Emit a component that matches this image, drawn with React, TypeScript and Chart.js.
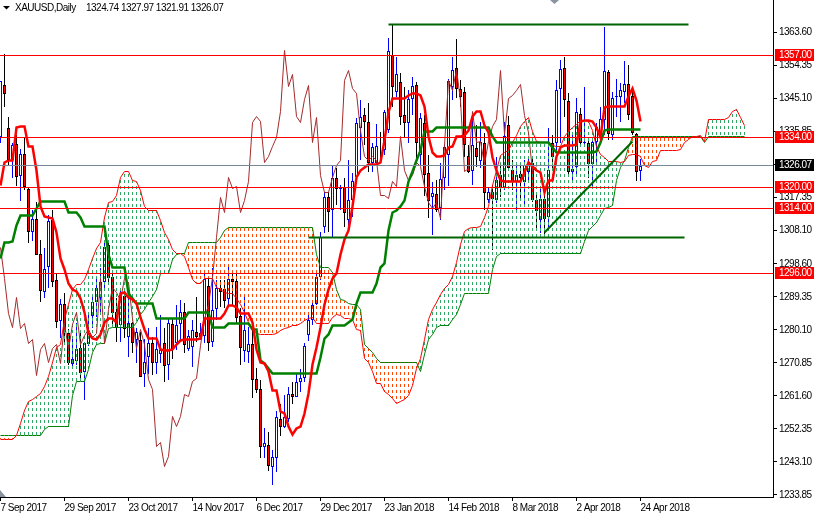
import React, { useEffect, useRef } from 'react';
import { Chart, registerables } from 'chart.js';

Chart.register(...registerables);

// daily candles, one entry per bar
const opens = [
  1334.1, 1348.7, 1336.7, 1327.7, 1332.2, 1323.2, 1329.4, 1319.6, 1307.5, 1311.2,
  1301.4, 1290.7, 1297.7, 1310.9, 1294.1, 1282.6, 1287.4, 1279.2, 1270.5, 1271.4,
  1275.0, 1268.3, 1276.1, 1284.0, 1287.9, 1289.0, 1293.5, 1303.9, 1294.9, 1285.1,
  1281.5, 1289.6, 1278.1, 1282.0, 1277.3, 1277.3, 1267.7, 1272.5, 1276.4, 1270.8,
  1273.4, 1276.4, 1270.3, 1281.7, 1276.4, 1281.7, 1285.1, 1274.7, 1275.3, 1279.5,
  1278.1, 1278.4, 1292.4, 1276.7, 1286.0, 1291.8, 1291.6, 1288.8, 1294.4, 1293.8,
  1284.0, 1274.2, 1273.9, 1276.1, 1266.3, 1263.5, 1247.3, 1247.8, 1241.7, 1244.2,
  1255.1, 1252.9, 1255.1, 1262.1, 1261.3, 1265.5, 1266.6, 1278.7, 1282.9, 1287.4,
  1294.9, 1308.9, 1317.3, 1313.7, 1322.7, 1319.6, 1320.2, 1310.9, 1316.5, 1322.9,
  1336.7, 1340.3, 1338.4, 1326.9, 1326.9, 1334.2, 1330.5, 1336.1, 1357.2, 1346.8,
  1349.6, 1340.3, 1338.1, 1344.8, 1348.7, 1329.1, 1338.1, 1324.1, 1317.4, 1318.2,
  1314.3, 1322.7, 1329.1, 1348.2, 1353.5, 1347.6, 1346.8, 1328.8, 1324.6, 1331.1,
  1327.4, 1332.5, 1316.5, 1318.7, 1316.5, 1323.5, 1319.9, 1337.5, 1324.9, 1321.6,
  1323.8, 1321.6, 1324.4, 1326.9, 1316.5, 1310.9, 1316.8, 1311.8, 1332.5, 1332.5,
  1347.6, 1353.5, 1344.3, 1324.4, 1325.8, 1340.6, 1332.5, 1332.5, 1326.6, 1332.8,
  1334.2, 1338.9, 1352.4, 1334.7, 1345.4, 1345.4, 1346.8, 1349.0, 1345.7, 1335.0,
  1324.74,
];
const highs = [
  1349.9, 1357.4, 1339.8, 1332.5, 1334.7, 1330.8, 1333.9, 1319.9, 1313.7, 1315.9,
  1305.3, 1303.0, 1312.3, 1313.7, 1296.0, 1288.8, 1290.4, 1280.4, 1278.1, 1282.0,
  1279.2, 1276.4, 1284.3, 1289.3, 1294.6, 1297.4, 1305.3, 1305.3, 1296.9, 1289.0,
  1291.3, 1291.3, 1291.3, 1282.3, 1280.6, 1279.5, 1277.5, 1280.6, 1278.1, 1280.9,
  1284.3, 1280.6, 1283.4, 1283.4, 1287.1, 1288.5, 1287.6, 1280.1, 1282.9, 1289.3,
  1282.0, 1296.9, 1294.9, 1297.4, 1294.1, 1294.1, 1294.1, 1298.3, 1296.6, 1296.3,
  1286.2, 1289.3, 1280.9, 1280.1, 1269.4, 1266.1, 1252.6, 1251.5, 1246.4, 1257.3,
  1259.3, 1261.8, 1264.1, 1265.5, 1268.0, 1269.1, 1276.4, 1284.3, 1287.6, 1296.9,
  1307.5, 1318.7, 1318.7, 1326.0, 1325.5, 1320.7, 1322.7, 1327.7, 1324.1, 1339.5,
  1344.5, 1342.3, 1343.7, 1332.5, 1337.8, 1335.6, 1341.7, 1361.9, 1365.6, 1356.6,
  1352.1, 1348.2, 1347.3, 1351.0, 1349.6, 1340.9, 1340.3, 1329.1, 1321.6, 1322.1,
  1326.9, 1331.9, 1350.4, 1356.6, 1361.6, 1350.1, 1348.2, 1331.9, 1340.3, 1337.5,
  1338.4, 1335.3, 1319.9, 1320.7, 1328.6, 1326.3, 1338.4, 1340.0, 1327.7, 1326.3,
  1326.9, 1327.7, 1328.6, 1328.6, 1318.5, 1320.2, 1320.2, 1336.7, 1334.7, 1350.1,
  1355.8, 1356.6, 1346.5, 1335.3, 1345.1, 1342.3, 1348.2, 1333.0, 1333.3, 1338.1,
  1342.6, 1365.0, 1352.9, 1346.8, 1350.4, 1349.3, 1355.5, 1354.3, 1347.9, 1335.3,
  1327.97,
];
const lows = [
  1332.5, 1342.6, 1326.0, 1322.7, 1320.4, 1316.2, 1319.3, 1304.4, 1305.0, 1301.1,
  1287.9, 1289.0, 1291.8, 1292.1, 1280.6, 1277.8, 1276.4, 1270.3, 1269.1, 1270.3,
  1266.1, 1260.5, 1275.6, 1280.6, 1283.7, 1284.8, 1291.3, 1293.2, 1280.9, 1276.7,
  1276.7, 1277.8, 1272.5, 1273.6, 1270.8, 1266.9, 1264.1, 1267.7, 1267.5, 1267.7,
  1270.8, 1265.5, 1266.1, 1272.0, 1274.5, 1277.3, 1273.6, 1274.2, 1269.7, 1276.7,
  1277.3, 1276.4, 1274.2, 1275.3, 1282.9, 1286.5, 1286.2, 1287.1, 1287.1, 1282.0,
  1270.3, 1271.1, 1270.8, 1261.0, 1262.4, 1244.2, 1244.2, 1240.5, 1236.6, 1240.3,
  1250.4, 1252.6, 1254.3, 1259.3, 1261.3, 1262.7, 1265.5, 1277.0, 1281.5, 1287.1,
  1294.1, 1307.3, 1307.5, 1305.9, 1315.1, 1313.7, 1308.9, 1308.9, 1311.8, 1322.1,
  1327.7, 1331.9, 1324.4, 1324.4, 1326.3, 1328.0, 1329.1, 1335.3, 1342.6, 1345.4,
  1337.5, 1334.2, 1332.5, 1340.3, 1327.7, 1326.3, 1317.6, 1311.5, 1306.7, 1313.1,
  1310.9, 1319.3, 1320.4, 1344.5, 1345.1, 1342.6, 1328.6, 1324.1, 1320.7, 1325.8,
  1325.5, 1313.7, 1315.7, 1302.5, 1315.7, 1317.4, 1319.3, 1324.9, 1319.3, 1313.7,
  1316.5, 1314.6, 1322.1, 1315.9, 1308.1, 1307.3, 1306.7, 1308.9, 1324.9, 1330.5,
  1332.5, 1339.8, 1323.5, 1321.3, 1323.0, 1331.4, 1331.4, 1322.7, 1320.2, 1326.9,
  1333.9, 1334.7, 1333.3, 1333.3, 1339.8, 1338.4, 1343.7, 1338.9, 1334.7, 1321.8,
  1321.91,
];
const closes = [
  1349.9, 1346.2, 1327.7, 1331.9, 1322.9, 1329.4, 1320.2, 1307.5, 1311.2, 1301.1,
  1291.0, 1297.2, 1310.6, 1293.5, 1282.3, 1287.4, 1279.5, 1270.8, 1271.9, 1274.7,
  1268.0, 1276.4, 1279.2, 1287.9, 1291.8, 1293.5, 1303.3, 1294.6, 1284.8, 1280.9,
  1289.9, 1280.4, 1282.0, 1276.4, 1279.5, 1266.9, 1271.1, 1276.4, 1270.8, 1274.7,
  1274.5, 1270.0, 1282.0, 1274.7, 1281.5, 1285.1, 1275.9, 1278.4, 1280.1, 1278.1,
  1279.2, 1294.4, 1276.4, 1285.7, 1291.8, 1290.7, 1288.2, 1294.4, 1293.5, 1283.4,
  1275.0, 1280.1, 1276.1, 1266.1, 1263.3, 1247.3, 1248.4, 1241.9, 1244.5, 1255.7,
  1252.9, 1255.7, 1262.1, 1261.3, 1265.5, 1266.6, 1275.6, 1282.9, 1287.1, 1294.9,
  1306.1, 1317.3, 1313.1, 1322.7, 1319.6, 1320.2, 1312.9, 1316.5, 1321.8, 1338.1,
  1339.8, 1338.4, 1326.9, 1331.4, 1331.6, 1333.9, 1341.2, 1358.3, 1348.2, 1351.8,
  1339.8, 1338.1, 1344.8, 1348.5, 1332.5, 1339.5, 1323.5, 1316.2, 1318.5, 1313.7,
  1322.4, 1331.4, 1349.9, 1352.9, 1347.6, 1345.4, 1331.9, 1324.4, 1331.9, 1328.6,
  1332.8, 1318.5, 1318.7, 1316.8, 1322.1, 1319.9, 1334.4, 1325.5, 1321.6, 1323.5,
  1322.7, 1326.3, 1326.9, 1316.5, 1313.4, 1316.8, 1311.2, 1324.9, 1328.6, 1347.3,
  1353.2, 1344.5, 1324.4, 1325.2, 1341.2, 1332.5, 1332.8, 1326.6, 1332.8, 1337.0,
  1339.2, 1352.7, 1335.0, 1345.1, 1345.7, 1347.3, 1349.0, 1340.3, 1335.3, 1324.4,
  1326.07,
];

// ichimoku lines
const tenkan = [
  1320.7, 1326.9, 1327.7, 1327.7, 1336.7, 1337.0, 1337.0, 1331.4, 1331.4, 1324.9,
  1314.6, 1311.8, 1311.5, 1311.2, 1307.5, 1300.2, 1296.9, 1293.2, 1291.3, 1291.0,
  1289.0, 1285.1, 1279.2, 1277.8, 1277.5, 1278.7, 1282.3, 1283.4, 1283.4, 1282.3,
  1290.4, 1290.7, 1289.3, 1288.5, 1287.6, 1283.7, 1280.1, 1277.8, 1277.8, 1277.8,
  1274.5, 1274.2, 1274.2, 1274.5, 1275.9, 1277.0, 1277.3, 1277.3, 1277.5, 1277.5,
  1277.8, 1283.4, 1283.4, 1283.4, 1283.4, 1283.4, 1284.8, 1286.8, 1286.8, 1286.5,
  1284.8, 1284.8, 1284.8, 1282.3, 1274.5, 1271.1, 1270.8, 1268.3, 1263.0, 1263.0,
  1257.1, 1256.8, 1252.9, 1250.9, 1252.6, 1252.9, 1256.8, 1262.4, 1270.3, 1275.3,
  1280.9, 1287.1, 1291.3, 1294.6, 1296.0, 1301.1, 1305.3, 1308.1, 1314.6, 1322.7,
  1324.9, 1325.5, 1326.6, 1326.6, 1326.6, 1326.9, 1333.3, 1340.9, 1345.1, 1345.1,
  1345.1, 1345.1, 1345.9, 1346.5, 1346.5, 1345.9, 1342.6, 1334.2, 1329.7, 1328.8,
  1328.8, 1329.1, 1331.1, 1331.6, 1334.4, 1334.4, 1334.7, 1336.1, 1339.8, 1341.2,
  1341.2, 1337.5, 1335.3, 1328.3, 1324.9, 1322.1, 1321.8, 1321.8, 1321.6, 1321.6,
  1321.6, 1324.1, 1326.9, 1325.8, 1324.9, 1324.1, 1318.7, 1322.1, 1322.1, 1328.6,
  1331.1, 1331.9, 1331.9, 1331.9, 1332.2, 1338.4, 1338.9, 1338.9, 1338.4, 1336.7,
  1333.9, 1342.3, 1342.6, 1342.6, 1342.6, 1342.6, 1342.6, 1345.4, 1347.9, 1344.5,
  1338.6,
];
const kijun = [
  1300.2, 1304.5, 1304.5, 1305.0, 1309.5, 1312.3, 1312.3, 1312.3, 1312.3, 1314.0,
  1316.2, 1316.2, 1316.2, 1316.2, 1316.2, 1316.2, 1316.2, 1313.1, 1313.1, 1312.9,
  1311.5, 1309.2, 1309.2, 1309.2, 1309.2, 1309.2, 1309.2, 1301.1, 1297.7, 1297.7,
  1297.7, 1297.7, 1290.4, 1289.0, 1287.4, 1287.4, 1287.4, 1287.4, 1287.4, 1283.4,
  1283.4, 1283.4, 1283.4, 1283.4, 1283.4, 1283.4, 1283.4, 1285.1, 1285.1, 1285.1,
  1285.1, 1285.1, 1285.1, 1280.9, 1280.9, 1280.9, 1280.9, 1282.0, 1282.0, 1282.0,
  1282.0, 1282.0, 1282.0, 1280.1, 1280.1, 1271.4, 1270.8, 1269.4, 1268.0, 1268.0,
  1268.0, 1268.0, 1268.0, 1268.0, 1268.0, 1268.0, 1268.0, 1268.0, 1268.0, 1268.0,
  1272.5, 1277.8, 1278.7, 1281.2, 1281.2, 1281.2, 1281.2, 1282.3, 1282.9, 1287.6,
  1290.7, 1290.7, 1290.7, 1290.7, 1293.2, 1297.7, 1298.8, 1308.1, 1312.9, 1313.7,
  1314.6, 1316.5, 1321.6, 1324.4, 1327.7, 1330.5, 1335.6, 1335.8, 1335.8, 1336.7,
  1336.7, 1336.7, 1336.7, 1336.7, 1336.7, 1336.7, 1336.7, 1336.7, 1336.7, 1336.7,
  1336.7, 1336.7, 1336.7, 1334.2, 1332.5, 1332.5, 1332.5, 1332.5, 1332.5, 1332.5,
  1332.5, 1332.5, 1332.5, 1332.5, 1332.5, 1332.5, 1332.5, 1332.5, 1331.1, 1329.7,
  1329.7, 1329.7, 1329.7, 1329.7, 1329.7, 1329.7, 1329.7, 1329.7, 1329.7, 1330.0,
  1332.5, 1336.1, 1336.4, 1336.4, 1336.4, 1336.4, 1336.4, 1336.4, 1336.4, 1336.4,
  1336.4,
];
const chikou = [
  1303.3, 1294.6, 1284.8, 1280.9, 1289.3, 1280.4, 1282.0, 1276.4, 1277.3, 1267.2,
  1274.5, 1276.4, 1271.1, 1275.0, 1275.9, 1270.8, 1282.0, 1274.7, 1281.5, 1285.1,
  1275.9, 1278.4, 1280.1, 1278.1, 1279.2, 1294.4, 1276.4, 1285.7, 1291.9, 1290.7,
  1288.2, 1294.4, 1293.5, 1283.4, 1275.0, 1280.1, 1276.1, 1266.1, 1263.3, 1247.3,
  1248.4, 1241.9, 1244.5, 1255.7, 1252.9, 1255.7, 1262.1, 1261.3, 1265.5, 1266.6,
  1275.6, 1282.9, 1287.1, 1294.9, 1306.1, 1317.3, 1313.1, 1322.7, 1319.6, 1320.2,
  1312.9, 1316.5, 1321.8, 1338.1, 1339.8, 1338.4, 1326.9, 1328.6, 1331.6, 1333.9,
  1341.2, 1358.3, 1348.2, 1351.8, 1339.8, 1338.1, 1344.8, 1348.5, 1332.5, 1339.5,
  1323.5, 1318.7, 1318.5, 1322.7, 1326.3, 1327.7, 1350.1, 1352.7, 1347.9, 1346.5,
  1336.1, 1328.6, 1327.7, 1328.6, 1327.7, 1317.9, 1317.9, 1316.8, 1321.8, 1320.2,
  1334.2, 1324.9, 1322.1, 1323.5, 1326.9, 1325.8, 1320.2, 1315.7, 1314.0, 1315.9,
  1311.2, 1331.9, 1350.1, 1347.3, 1353.2, 1344.5, 1324.4, 1325.2, 1341.2, 1332.5,
  1332.8, 1326.6, 1332.8, 1337.0, 1339.2, 1352.7, 1335.0, 1345.1, 1345.7, 1347.3,
  1349.0, 1340.3, 1335.3, 1324.4, 1326.0,
];
const spanA = [
  1249.5, 1249.5, 1249.5, 1249.5, 1250.6, 1254.0, 1257.6, 1259.9, 1260.5, 1261.3,
  1262.4, 1264.1, 1266.9, 1271.1, 1275.3, 1275.9, 1282.9, 1287.1, 1291.3, 1292.7,
  1292.7, 1294.1, 1296.9, 1300.2, 1303.0, 1304.5, 1311.7, 1315.9, 1316.2, 1317.9,
  1322.9, 1324.6, 1324.4, 1322.1, 1321.6, 1319.3, 1314.6, 1313.7, 1313.7, 1313.7,
  1310.9, 1307.5, 1305.3, 1302.5, 1301.6, 1301.6, 1300.8, 1297.5, 1294.1, 1293.2,
  1293.2, 1294.4, 1294.6, 1294.4, 1292.1, 1291.3, 1290.7, 1290.4, 1290.4, 1289.0,
  1287.1, 1285.1, 1282.3, 1280.6, 1279.2, 1278.9, 1278.7, 1278.7, 1278.9, 1279.2,
  1279.8, 1280.4, 1280.9, 1281.2, 1281.2, 1281.8, 1282.6, 1283.4, 1283.7, 1282.0,
  1282.0, 1282.0, 1282.0, 1283.7, 1284.3, 1284.0, 1283.4, 1283.4, 1282.9, 1280.1,
  1279.8, 1272.2, 1271.1, 1268.3, 1265.2, 1265.2, 1262.7, 1262.1, 1261.0, 1259.6,
  1259.9, 1260.5, 1261.8, 1264.6, 1269.4, 1272.2, 1277.3, 1282.9, 1285.7, 1287.9,
  1289.9, 1291.8, 1292.7, 1295.2, 1299.1, 1303.9, 1307.8, 1308.4, 1308.7, 1308.7,
  1309.2, 1311.5, 1314.6, 1320.7, 1324.9, 1329.1, 1329.7, 1330.5, 1332.5, 1334.7,
  1337.0, 1338.4, 1339.5, 1335.6, 1332.8, 1332.5, 1332.5, 1332.5, 1331.9, 1331.6,
  1331.4, 1334.2, 1335.8, 1336.7, 1337.8, 1338.9, 1338.9, 1338.4, 1336.1, 1331.4,
  1329.4, 1328.3, 1327.4, 1327.2, 1327.2, 1326.9, 1327.2, 1329.1, 1329.4, 1329.4,
  1328.6, 1326.3, 1325.5, 1327.2, 1327.7, 1330.5, 1330.5, 1330.5, 1330.5, 1330.5,
  1330.8, 1332.5, 1333.6, 1334.2, 1334.4, 1334.7, 1333.0, 1339.2, 1339.2, 1339.2,
  1339.2, 1339.2, 1339.5, 1341.2, 1342.0, 1339.5, 1337.5,
];
const spanB = [
  1250.6, 1250.6, 1250.6, 1250.6, 1250.6, 1250.6, 1250.6, 1250.6, 1250.6, 1250.6,
  1250.6, 1252.3, 1252.9, 1252.9, 1252.9, 1252.9, 1252.9, 1252.9, 1261.8, 1265.5,
  1265.5, 1265.5, 1268.9, 1273.9, 1275.9, 1276.4, 1276.4, 1280.6, 1280.9, 1280.9,
  1280.9, 1280.9, 1280.9, 1280.9, 1282.3, 1284.3, 1285.7, 1287.9, 1289.6, 1291.3,
  1295.8, 1296.0, 1296.0, 1299.7, 1301.1, 1301.6, 1301.6, 1304.5, 1304.5, 1304.5,
  1304.5, 1304.5, 1304.5, 1304.5, 1304.5, 1305.9, 1308.1, 1308.9, 1308.9, 1308.9,
  1308.9, 1308.9, 1308.9, 1308.9, 1308.9, 1308.9, 1308.9, 1308.9, 1308.9, 1308.9,
  1308.9, 1308.9, 1308.9, 1308.9, 1308.9, 1308.9, 1308.9, 1308.9, 1308.9, 1301.1,
  1297.5, 1297.5, 1297.5, 1296.3, 1291.3, 1288.5, 1288.2, 1287.4, 1287.1, 1287.1,
  1285.7, 1275.9, 1275.0, 1273.9, 1272.2, 1271.1, 1271.1, 1271.1, 1271.1, 1271.1,
  1271.1, 1271.1, 1271.1, 1271.1, 1271.1, 1268.3, 1273.1, 1277.3, 1278.9, 1280.9,
  1281.2, 1281.2, 1281.2, 1282.9, 1284.3, 1287.1, 1290.4, 1290.4, 1290.4, 1290.4,
  1290.4, 1290.4, 1290.4, 1296.9, 1300.8, 1301.4, 1301.4, 1301.4, 1301.4, 1301.4,
  1301.4, 1301.4, 1301.4, 1301.4, 1301.4, 1301.4, 1301.4, 1301.4, 1301.4, 1301.4,
  1301.4, 1301.4, 1301.4, 1301.4, 1301.4, 1301.4, 1305.0, 1308.1, 1309.2, 1310.1,
  1312.3, 1314.0, 1314.3, 1315.1, 1322.1, 1325.5, 1327.7, 1331.1, 1334.2, 1334.2,
  1334.2, 1334.2, 1334.2, 1334.2, 1334.2, 1334.2, 1334.2, 1334.2, 1334.2, 1334.2,
  1334.2, 1334.2, 1334.2, 1334.2, 1334.2, 1334.2, 1332.5, 1334.2, 1334.2, 1334.2,
  1334.2, 1334.2, 1334.2, 1334.2, 1334.2, 1334.2, 1334.2,
];

// horizontal levels, last price, hand drawn trend lines [bar, price]
const levels = [1357, 1334, 1320, 1314, 1296];
const lastPrice = 1326.07;
const trendTop = [[97, 1365.6], [172, 1365.6]];
const trendFloor = [[77, 1306.1], [171, 1306.1]];
const trendRise = [[136, 1307.3], [158, 1332.8]];

const priceTicks = [
  1363.6, 1354.35, 1345.1, 1335.85, 1326.6, 1317.35, 1308.1, 1298.6,
  1289.35, 1280.1, 1270.85, 1261.6, 1252.35, 1243.1, 1233.85,
];
const dateBars = [0, 16, 32, 48, 64, 80, 96, 112, 128, 144, 160];
const dateLabels = [
  '7 Sep 2017', '29 Sep 2017', '23 Oct 2017', '14 Nov 2017', '6 Dec 2017', '29 Dec 2017',
  '23 Jan 2018', '14 Feb 2018', '8 Mar 2018', '2 Apr 2018', '24 Apr 2018',
];

const FONT = '"Liberation Sans", sans-serif';

const dotPattern = (color: string) => {
  const c = document.createElement('canvas');
  c.width = 1;
  c.height = 6;
  const g = c.getContext('2d')!;
  g.fillStyle = color;
  g.fillRect(0, 0, 1, 3);
  return g.createPattern(c, 'repeat')!;
};

const series = (values: number[]) => values.map((y, x) => ({ x, y }));
const pairs = (p: number[][]) => p.map(([x, y]) => ({ x, y }));

const lineSet = (data: any[], color: string, width: number, order: number) => ({
  type: 'line' as const,
  data,
  borderColor: color,
  borderWidth: width,
  pointRadius: 0,
  tension: 0,
  fill: false,
  order,
});

// snap computed pixels to whole pixels so the marks stay crisp like the terminal's
const pixelSnap = {
  id: 'pixelSnap',
  afterDatasetsUpdate(chart: any) {
    chart.data.datasets.forEach((_: any, i: number) => {
      const meta = chart.getDatasetMeta(i);
      meta.data.forEach((el: any) => {
        if (meta.type === 'bar') {
          el.y = Math.round(el.y);
          el.base = Math.round(el.base);
        } else {
          el.y = Math.floor(el.y) + 0.5;
        }
      });
    });
  },
};

// price tags, title and the small chart markers
const overlay = {
  id: 'overlay',
  beforeDraw(chart: any) {
    // the reference font is narrower than anything installed
    chart.ctx.letterSpacing = '-0.5px';
  },
  afterDraw(chart: any) {
    const { ctx } = chart;
    const yScale = chart.scales.y;
    ctx.save();
    ctx.textBaseline = 'middle';
    ctx.font = `10px ${FONT}`;

    const tag = (v: number, bg: string) => {
      const y = Math.floor(yScale.getPixelForValue(v));
      ctx.fillStyle = bg;
      ctx.fillRect(775, y - 6, 39, 12);
      ctx.fillStyle = '#fff';
      ctx.fillText(v.toFixed(2), 779, y + 0.5);
    };
    levels.forEach((v) => tag(v, '#ff0000'));
    tag(lastPrice, '#000');

    ctx.fillStyle = '#000';
    ctx.fillText('XAUUSD,Daily', 15, 8);
    ctx.fillText(`${opens[160]} ${highs[160]} ${lows[160]} ${closes[160]}`, 86, 8);
    ctx.beginPath();
    ctx.moveTo(3, 6);
    ctx.lineTo(10, 6);
    ctx.lineTo(6.5, 9.5);
    ctx.closePath();
    ctx.fill();

    ctx.fillStyle = '#8a94a0';
    ctx.beginPath();
    ctx.moveTo(0, 490);
    ctx.lineTo(6, 497);
    ctx.lineTo(0, 497);
    ctx.closePath();
    ctx.fill();
    ctx.beginPath();
    ctx.moveTo(550, 0);
    ctx.lineTo(559, 0);
    ctx.lineTo(554.5, 4);
    ctx.closePath();
    ctx.fill();
    ctx.restore();
  },
};

const App: React.FC = () => {
  const canvasRef = useRef<HTMLCanvasElement | null>(null);

  useEffect(() => {
    if (!canvasRef.current) return;
    document.body.style.margin = '0';

    const ctx = canvasRef.current.getContext('2d');
    if (!ctx) return;

    const greenDots = dotPattern('#2fa866');
    const orangeDots = dotPattern('#ff4500');
    const bull = closes.map((c, i) => c >= opens[i]);

    const myChart = new Chart(ctx, {
      type: 'bar',
      data: {
        datasets: [
          {
            data: lows.map((l, i) => ({ x: i, y: [l, highs[i]] })),
            backgroundColor: bull.map((b) => (b ? '#0000ff' : '#000')),
            borderWidth: 0,
            maxBarThickness: 1,
            inflateAmount: 0,
            order: 8,
          },
          {
            data: opens.map((o, i) => ({ x: i, y: [o, closes[i]] })),
            backgroundColor: bull.map((b) => (b ? '#fff' : '#ff0000')),
            borderColor: bull.map((b) => (b ? '#0000ff' : '#000')),
            borderWidth: 1,
            borderSkipped: false,
            maxBarThickness: 3,
            inflateAmount: 0,
            order: 7,
          },
          {
            data: spanA.map((a, i) => ({ x: i, y: [a, spanB[i]] })),
            backgroundColor: spanA.map((a, i) => (a >= spanB[i] ? greenDots : orangeDots)),
            borderWidth: 0,
            maxBarThickness: 1,
            inflateAmount: 0,
            order: 6,
          },
          lineSet(series(spanA), '#ff0000', 1, 5),
          lineSet(series(spanB), '#008000', 1, 5),
          lineSet(series(chikou), '#a52a2a', 1, 4),
          lineSet(series(kijun), '#008000', 2.5, 3),
          lineSet(series(tenkan), '#ff0000', 2.5, 2),
          lineSet(pairs([[-1, lastPrice], [194, lastPrice]]), '#778899', 1, 1),
          ...levels.map((v) => lineSet(pairs([[-1, v], [194, v]]), '#ff0000', 1, 1)),
          lineSet(pairs(trendTop), '#006400', 2, 0),
          lineSet(pairs(trendFloor), '#006400', 2, 0),
          lineSet(pairs(trendRise), '#006400', 2, 0),
        ] as any,
      },
      options: {
        responsive: false,
        animation: false,
        devicePixelRatio: 1,
        barPercentage: 1,
        categoryPercentage: 1,
        grouped: false,
        layout: { padding: 0 },
        plugins: { legend: { display: false }, tooltip: { enabled: false }, title: { display: false } },
        scales: {
          x: {
            type: 'linear',
            offset: false,
            bounds: 'data',
            min: -0.125,
            max: 193.125,
            grid: { offset: false, drawOnChartArea: false, tickColor: '#000', tickLength: 4 },
            border: { color: '#000' },
            afterBuildTicks: (scale: any) => {
              scale.ticks = dateBars.map((value) => ({ value }));
            },
            afterFit: (scale: any) => {
              scale.height = 17;
              scale.paddingLeft = 0;
              scale.paddingRight = 0;
            },
            ticks: {
              autoSkip: false,
              maxRotation: 0,
              align: 'start',
              padding: 1,
              color: '#000',
              font: { family: FONT, size: 10 },
              callback: (v: any) => dateLabels[dateBars.indexOf(v)],
            },
          },
          y: {
            type: 'linear',
            position: 'right',
            bounds: 'data',
            min: 1233.26,
            max: 1372.57,
            grid: { drawOnChartArea: false, tickColor: '#000', tickLength: 4 },
            border: { color: '#000' },
            afterBuildTicks: (scale: any) => {
              scale.ticks = priceTicks.map((value) => ({ value }));
            },
            afterFit: (scale: any) => {
              scale.width = 41;
              scale.paddingTop = 0;
              scale.paddingBottom = 0;
            },
            ticks: {
              autoSkip: false,
              padding: 2,
              color: '#000',
              font: { family: FONT, size: 10 },
              callback: (v: any) => Number(v).toFixed(2),
            },
          },
        },
      } as any,
      plugins: [pixelSnap, overlay],
    });

    return () => {
      myChart.destroy();
    };
  }, []);

  return <canvas ref={canvasRef} width={814} height={514} style={{ display: 'block', width: 814, height: 514 }} />;
};

export default App;
